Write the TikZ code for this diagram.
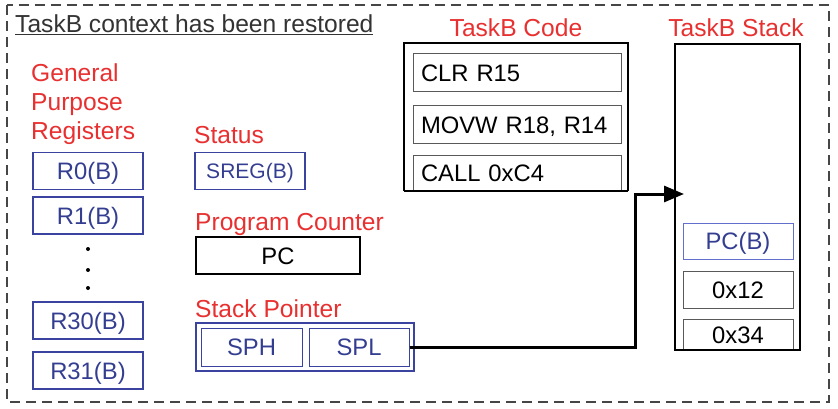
\documentclass[tikz,border=0pt]{standalone}
\usepackage{fontspec}
\setmainfont{Liberation Sans}
\usetikzlibrary{arrows.meta,positioning}

\definecolor{lblred}{RGB}{232,48,48}
\definecolor{regblue}{RGB}{58,68,160}
\definecolor{txtblue}{RGB}{52,62,145}
\definecolor{pcblue}{RGB}{100,110,205}
\definecolor{framegray}{RGB}{70,70,70}

\tikzset{
  lbl/.style={text=lblred, font=\fontsize{24.6}{29}\selectfont, inner sep=0pt},
  reg/.style={draw=regblue, line width=1.5pt, text=txtblue, minimum width=110pt,
    minimum height=37pt, inner sep=0pt, font=\fontsize{23.8}{28}\selectfont,
    text height=17pt, text depth=0pt},
  cell/.style={draw=black!65, line width=1pt, minimum width=110pt, minimum height=37pt,
    inner sep=0pt, font=\fontsize{23.8}{28}\selectfont, text height=17pt, text depth=0pt},
  instr/.style={cell, minimum width=208pt, minimum height=38pt, text width=192pt,
    align=left, inner xsep=8pt},
  ptr/.style={line width=3pt, -{Triangle[length=20pt,width=16pt]}}
}

\begin{document}
\begin{tikzpicture}[x=1pt,y=-1pt]
\useasboundingbox (0,0) rectangle (838,409);

% outer frame
\draw[framegray, line width=1.5pt, dash pattern=on 10pt off 6pt] (7,5) rectangle (829,402);
\node[anchor=base west, inner sep=0pt, font=\fontsize{24.6}{29}\selectfont, text=black!80] (title) at (15,33) {\underline{TaskB context has been restored}};

% general purpose registers
\node[lbl, anchor=base west] (gpr1) at (31,82) {General};
\node[lbl, anchor=base west] (gpr2) at (31,111) {Purpose};
\node[lbl, anchor=base west] (gpr3) at (31,140) {Registers};
\node[reg] (r0) at (88,171) {R0(B)};
\node[reg] (r1) at (88,215.5) {R1(B)};
\node[reg] (r30) at (88,320.5) {R30(B)};
\node[reg] (r31) at (88,370.5) {R31(B)};
\foreach \y in {249,270,288}
  \fill (88,\y) circle (2pt);

% status, pc, sp
\node[lbl, anchor=base west] (statuslbl) at (194,143) {Status};
\node[reg, font=\fontsize{21}{25}\selectfont, text height=15pt] (sreg) at (250,171) {SREG(B)};
\node[lbl, anchor=base west] (pclbl) at (195,230) {Program Counter};
\node[cell, draw=black, line width=1.5pt, minimum width=164pt] (pc) at (278,255.5) {PC};
\node[lbl, anchor=base west] (splbl) at (195,317) {Stack Pointer};
\node[reg, minimum width=218pt, minimum height=48pt] (sp) at (305,347) {};
\node[reg, line width=1pt, minimum width=101pt, minimum height=38pt] (sph) at (251.5,347) {SPH};
\node[reg, line width=1pt, minimum width=100pt, minimum height=38pt] (spl) at (359,347) {SPL};

% code
\node[lbl, anchor=base] (codelbl) at (516,37) {TaskB Code};
\draw[line width=1.5pt] (404,191) -- (404,43) -- (628,43) -- (628,191);
\node[instr] (clr) at (517,73) {CLR R15};
\node[instr] (movw) at (517,125) {MOVW R18, R14};
\node[instr, minimum height=35pt] (call) at (517,173.5) {CALL 0xC4};
\draw[line width=1.5pt] (404,191) -- (628,191);

% stack
\node[lbl, anchor=base] (stacklbl) at (736,37) {TaskB Stack};
\node[cell, draw=pcblue, text=txtblue, minimum height=36pt] (pcb) at (738,241) {PC(B)};
\node[cell] (v12) at (738,289.5) {0x12};
\node[cell, minimum height=31pt] (v34) at (738,334.5) {0x34};
\draw[line width=1.5pt] (675,350) -- (675,44) -- (800,44) -- (800,350) -- cycle;

% stack pointer link
\coordinate (bend) at (635,194);
\coordinate (sptop) at (684,194);
\draw[ptr] (spl.east) -| (bend) -- (sptop);
\end{tikzpicture}
\end{document}
